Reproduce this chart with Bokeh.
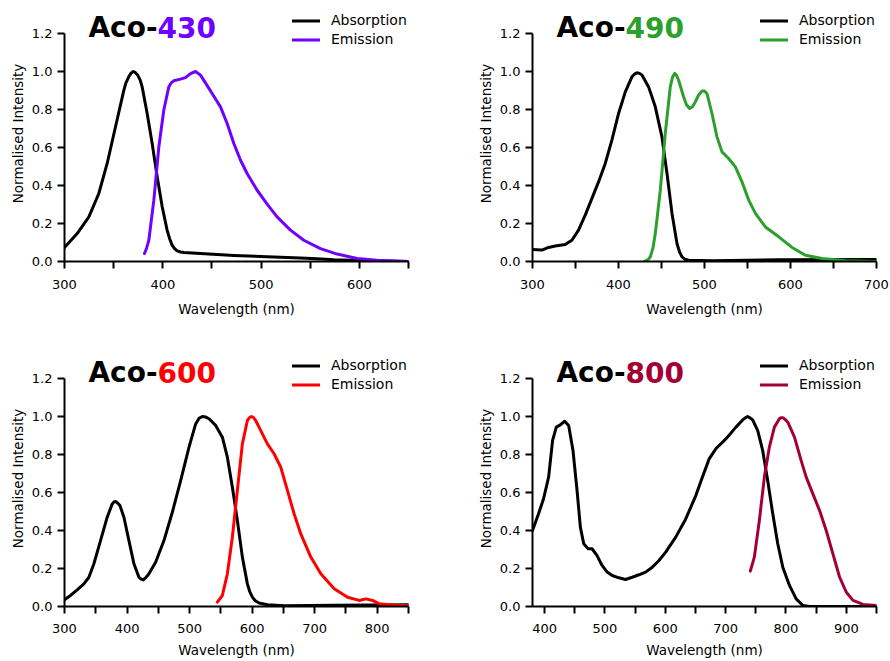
from bokeh.plotting import figure
from bokeh.models import Range1d, FixedTicker, Legend, LegendItem, Label
from bokeh.layouts import column, row
from bokeh.embed import file_html
from bokeh.resources import INLINE

FONT = "DejaVu Sans"

# ---------------- data ----------------
Y_TICKS = [0.0, 0.2, 0.4, 0.6, 0.8, 1.0, 1.2]
Y_LABELS = ["0.0", "0.2", "0.4", "0.6", "0.8", "1.0", "1.2"]

# Aco-430
A430_XRANGE = [300, 650]
A430_XTICKS = [300, 400, 500, 600]
A430_XLABELS = ["300", "400", "500", "600"]
A430_XMINOR = [350, 450, 550, 650]
A430_ABS_X = [300, 312.9, 324.8, 334.9, 343.4, 351.9, 360.4, 362.5, 365.4, 367.5,
              369.9, 372, 374.6, 377, 379, 384.1, 389.2, 394.3, 399.4, 404.4,
              407, 409.5, 412, 414.6, 418, 421.4, 438.4, 455.3, 472.3, 506.2,
              540.1, 557, 574, 608, 650]
A430_ABS_Y = [0.074, 0.147, 0.235, 0.358, 0.516, 0.709, 0.902, 0.94, 0.972, 0.99,
              1.0, 0.995, 0.98, 0.955, 0.919, 0.779, 0.621, 0.446, 0.288, 0.165,
              0.12, 0.086, 0.068, 0.056, 0.05, 0.047, 0.042, 0.037, 0.032, 0.025,
              0.018, 0.014, 0.009, 0.004, 0.0]
A430_EM_X = [381.4, 383.5, 385.8, 390.9, 396, 401, 406.1, 408.5, 411.2, 418,
             423.1, 428.2, 433.3, 438.4, 443.4, 450.2, 458.7, 465.5, 472.3, 479.1,
             485.8, 496, 506.2, 516.3, 529.9, 543.5, 560.4, 577.4, 597.7, 618.1, 650]
A430_EM_Y = [0.042, 0.07, 0.112, 0.323, 0.604, 0.796, 0.919, 0.94, 0.951, 0.96,
             0.968, 0.989, 1.0, 0.981, 0.94, 0.884, 0.814, 0.726, 0.621, 0.533,
             0.463, 0.375, 0.302, 0.235, 0.165, 0.112, 0.068, 0.039, 0.016, 0.007, 0.0]

# Aco-490
A490_XRANGE = [300, 700]
A490_XTICKS = [300, 400, 500, 600, 700]
A490_XLABELS = ["300", "400", "500", "600", "700"]
A490_XMINOR = [350, 450, 550, 650]
A490_ABS_X = [300, 310.9, 318.6, 326.4, 338, 345.8, 353.5, 361.3, 369.1, 376.8,
              384.6, 392.3, 400.1, 407.9, 415.6, 418.5, 421.4, 424.5, 427.3, 435,
              442.8, 450.5, 456.4, 462.2, 468, 471, 473.8, 477, 481.6, 508.7,
              586.3, 700]
A490_ABS_Y = [0.063, 0.06, 0.074, 0.082, 0.089, 0.112, 0.165, 0.244, 0.332, 0.419,
              0.516, 0.639, 0.779, 0.893, 0.972, 0.986, 0.993, 0.99, 0.981, 0.919,
              0.814, 0.656, 0.463, 0.253, 0.095, 0.05, 0.025, 0.012, 0.007, 0.004,
              0.009, 0.011]
A490_EM_X = [430, 434, 437, 440, 442.8, 448.6, 454.4, 460.2, 462.8, 465.3,
             467.5, 469.9, 475.7, 479, 482.7, 486, 489.3, 493, 497.1, 500,
             502.9, 508.7, 514.5, 520.4, 528.1, 535.9, 543.6, 551.4, 559.2, 570.8,
             586.3, 601.8, 617.4, 636.8, 663.9, 700]
A490_EM_Y = [0.0, 0.008, 0.025, 0.07, 0.147, 0.375, 0.674, 0.919, 0.97, 0.99,
             0.98, 0.954, 0.867, 0.825, 0.805, 0.815, 0.84, 0.875, 0.898, 0.897,
             0.884, 0.779, 0.656, 0.577, 0.542, 0.498, 0.419, 0.323, 0.253, 0.182,
             0.13, 0.074, 0.033, 0.016, 0.004, 0.0]

# Aco-600
A600_XRANGE = [300, 850]
A600_XTICKS = [300, 400, 500, 600, 700, 800]
A600_XLABELS = ["300", "400", "500", "600", "700", "800"]
A600_XMINOR = [350, 450, 550, 650, 750, 850]
A600_ABS_X = [300, 309.6, 320.3, 331, 339, 347, 357.6, 368.3, 376.3, 379,
              381.6, 385, 388.6, 395, 403, 411, 419, 422, 425.9, 430,
              435, 445.7, 459, 472.4, 485.7, 499.1, 509.7, 515, 520.4, 526,
              531.1, 541.7, 552.4, 560.4, 568.4, 576.4, 584.4, 592.4, 596, 600.4,
              605, 611.1, 624.4, 651.1, 731.2, 850]
A600_ABS_Y = [0.035, 0.058, 0.088, 0.119, 0.154, 0.225, 0.347, 0.47, 0.54, 0.55,
              0.553, 0.545, 0.532, 0.47, 0.347, 0.225, 0.154, 0.145, 0.14, 0.152,
              0.172, 0.233, 0.347, 0.496, 0.663, 0.839, 0.961, 0.99, 1.0, 0.997,
              0.988, 0.953, 0.891, 0.786, 0.628, 0.453, 0.26, 0.119, 0.08, 0.049,
              0.03, 0.018, 0.009, 0.004, 0.007, 0.009]
A600_EM_X = [544.4, 552.4, 560.4, 568.4, 576.4, 584.4, 592.4, 595.5, 598.8, 602,
             605.7, 613.8, 624.4, 635.1, 645.8, 656.4, 667.1, 677.8, 693.8, 709.8,
             731.2, 752.5, 771.2, 781.9, 792.5, 803.2, 827.2, 850]
A600_EM_Y = [0.023, 0.058, 0.172, 0.365, 0.611, 0.856, 0.979, 0.993, 1.0, 0.995,
             0.979, 0.926, 0.856, 0.804, 0.733, 0.611, 0.488, 0.382, 0.26, 0.172,
             0.093, 0.049, 0.032, 0.04, 0.032, 0.014, 0.007, 0.005]

# Aco-800
A800_XRANGE = [380, 950]
A800_XTICKS = [400, 500, 600, 700, 800, 900]
A800_XLABELS = ["400", "500", "600", "700", "800", "900"]
A800_XMINOR = [450, 550, 650, 750, 850, 950]
A800_ABS_X = [380, 390, 398.3, 406.7, 413.3, 419.4, 426.1, 433.3, 439.9, 447.1,
              453.8, 459.3, 464.9, 472.1, 478.7, 487, 495.3, 503.7, 512, 523.1,
              534.1, 545.2, 556.3, 567.4, 578.5, 589.6, 600.7, 617.3, 633.9, 650.6,
              661.6, 672.7, 683.8, 700.4, 717.1, 728.2, 732.5, 736.5, 740.5, 744.8,
              753.2, 761.4, 769.7, 778.1, 786.4, 794.7, 805.8, 816.9, 828, 839, 950]
A800_ABS_Y = [0.4, 0.488, 0.567, 0.681, 0.874, 0.944, 0.956, 0.975, 0.953, 0.821,
              0.611, 0.418, 0.33, 0.304, 0.304, 0.268, 0.216, 0.181, 0.163, 0.151,
              0.142, 0.154, 0.167, 0.181, 0.207, 0.242, 0.286, 0.365, 0.461, 0.584,
              0.681, 0.777, 0.83, 0.882, 0.944, 0.982, 0.993, 1.0, 0.993, 0.982,
              0.926, 0.821, 0.663, 0.488, 0.33, 0.207, 0.111, 0.04, 0.005, 0.0, 0.0]
A800_EM_X = [740.9, 747.6, 755.9, 764.2, 772.5, 780.8, 789.1, 791.5, 794.7, 798.5,
             803, 814.1, 825.2, 833.5, 844.6, 855.7, 866.7, 877.8, 888.9, 900,
             911.1, 927.7, 950]
A800_EM_Y = [0.186, 0.26, 0.453, 0.681, 0.839, 0.944, 0.988, 0.993, 0.993, 0.985,
             0.97, 0.891, 0.768, 0.681, 0.593, 0.505, 0.4, 0.277, 0.154, 0.075,
             0.032, 0.011, 0.005]

SERIES_NAMES = ["Absorption", "Emission"]
TITLE_PREFIX = "Aco-"
TITLES = ["430", "490", "600", "800"]
COLORS = ["#7000FF", "#2CA02C", "#FF0000", "#A50034"]

Y_AXIS_TOP = 1.2
FRAME_H = 256          # px, includes headroom above 1.2 for title and legend
AXIS_H = 228           # px spanned by 0..1.2
Y_VIEW_TOP = Y_AXIS_TOP * FRAME_H / AXIS_H


def make_panel(num, color, xr, xticks, xlabels, xminor, ax, ay, ex, ey,
               width, height, bl, bt, br, bb, xstand, xlstand):
    p = figure(width=width, height=height,
               x_range=Range1d(xr[0], xr[1]), y_range=Range1d(0, Y_VIEW_TOP),
               output_backend="svg", toolbar_location=None,
               min_border_left=bl, min_border_top=bt,
               min_border_right=br, min_border_bottom=bb)
    p.outline_line_color = None
    p.grid.visible = False
    p.background_fill_color = "white"
    p.border_fill_color = "white"

    r1 = p.line(ax, ay, line_color="black", line_width=3,
                line_join="round", line_cap="round")
    r2 = p.line(ex, ey, line_color=color, line_width=3,
                line_join="round", line_cap="round")

    # axes
    p.xaxis.ticker = FixedTicker(ticks=xticks, minor_ticks=xminor)
    p.xaxis.major_label_overrides = {t: l for t, l in zip(xticks, xlabels)}
    p.yaxis.ticker = FixedTicker(ticks=Y_TICKS)
    p.yaxis.major_label_overrides = {t: l for t, l in zip(Y_TICKS, Y_LABELS)}
    p.yaxis.bounds = (0, Y_AXIS_TOP)
    p.xaxis.axis_label = "Wavelength (nm)"
    p.yaxis.axis_label = "Normalised Intensity"
    for ax_ in (p.xaxis, p.yaxis):
        ax_.axis_line_width = 2
        ax_.axis_line_color = "black"
        ax_.major_tick_line_width = 2
        ax_.major_tick_line_color = "black"
        ax_.major_tick_out = 7
        ax_.major_tick_in = 0
        ax_.minor_tick_line_width = 2
        ax_.minor_tick_line_color = "black"
        ax_.minor_tick_out = 7
        ax_.minor_tick_in = 0
        ax_.major_label_text_font = FONT
        ax_.major_label_text_font_size = "13px"
        ax_.major_label_text_color = "black"
        ax_.axis_label_text_font = FONT
        ax_.axis_label_text_font_size = "13.5px"
        ax_.axis_label_text_font_style = "normal"
        ax_.axis_label_text_color = "black"
    p.yaxis.minor_tick_line_color = None
    p.xaxis.major_label_standoff = xstand
    p.yaxis.major_label_standoff = 5
    p.xaxis.axis_label_standoff = xlstand
    p.yaxis.axis_label_standoff = 3

    # legend (inside the frame headroom)
    legend = Legend(items=[LegendItem(label=SERIES_NAMES[0], renderers=[r1]),
                           LegendItem(label=SERIES_NAMES[1], renderers=[r2])],
                    location=(228, 212.5))
    legend.background_fill_alpha = 0
    legend.border_line_color = None
    legend.padding = 0
    legend.margin = 0
    legend.spacing = 0
    legend.glyph_width = 28
    legend.glyph_height = 19
    legend.label_height = 19
    legend.label_standoff = 11
    legend.label_text_font = FONT
    legend.label_text_font_size = "14px"
    legend.label_text_color = "black"
    p.add_layout(legend)

    # title
    p.add_layout(Label(x=xr[0], y=Y_AXIS_TOP, x_offset=93, y_offset=6, text=TITLE_PREFIX,
                       text_align="right", text_baseline="alphabetic",
                       text_font=FONT, text_font_size="28px",
                       text_font_style="bold", text_color="black"))
    p.add_layout(Label(x=xr[0], y=Y_AXIS_TOP, x_offset=93, y_offset=6, text=num,
                       text_align="left", text_baseline="alphabetic",
                       text_font=FONT, text_font_size="28px",
                       text_font_style="bold", text_color=color))
    return p


p1 = make_panel(TITLES[0], COLORS[0], A430_XRANGE, A430_XTICKS, A430_XLABELS, A430_XMINOR,
                A430_ABS_X, A430_ABS_Y, A430_EM_X, A430_EM_Y, 445, 330, 64, 5, 37, 69, 11, 9)
p2 = make_panel(TITLES[1], COLORS[1], A490_XRANGE, A490_XTICKS, A490_XLABELS, A490_XMINOR,
                A490_ABS_X, A490_ABS_Y, A490_EM_X, A490_EM_Y, 445, 330, 87, 5, 14, 69, 11, 9)
p3 = make_panel(TITLES[2], COLORS[2], A600_XRANGE, A600_XTICKS, A600_XLABELS, A600_XMINOR,
                A600_ABS_X, A600_ABS_Y, A600_EM_X, A600_EM_Y, 445, 331, 64, 20, 37, 55, 10, 6)
p4 = make_panel(TITLES[3], COLORS[3], A800_XRANGE, A800_XTICKS, A800_XLABELS, A800_XMINOR,
                A800_ABS_X, A800_ABS_Y, A800_EM_X, A800_EM_Y, 445, 331, 87, 20, 14, 55, 10, 6)

layout = column(row(p1, p2), row(p3, p4))
open("out.html", "w").write(file_html(layout, INLINE))
